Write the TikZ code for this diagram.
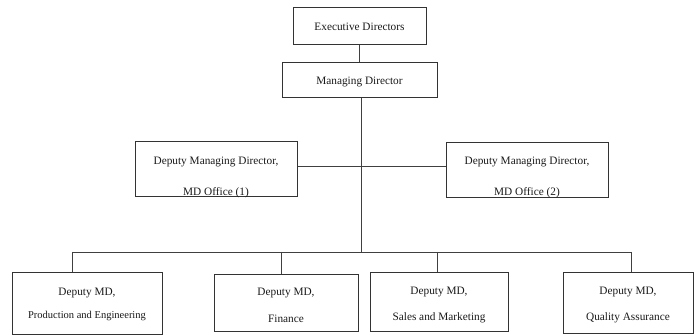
\documentclass[tikz,border=0pt]{standalone}
\usepackage{fontspec}
\setmainfont{Liberation Serif}
\begin{document}
\begin{tikzpicture}[x=1pt,y=-1pt,
  box/.style={draw=black!80,line width=1pt,rectangle,inner sep=0pt},
  txt/.style={inner sep=0pt,font=\fontsize{11.3}{12}\selectfont,text=black!90},
  small/.style={inner sep=0pt,font=\fontsize{10.5}{12}\selectfont,text=black!90},
  wire/.style={draw=black!75,line width=0.8pt}]
\useasboundingbox (0,0) rectangle (694,336);
% boxes
\node[box,minimum width=133pt,minimum height=37pt] (ed) at (359.5,26.5) {};
\node[box,minimum width=155pt,minimum height=35pt] (md) at (359.5,80.5) {};
\node[box,minimum width=162pt,minimum height=55pt] (d1) at (216,169.5) {};
\node[box,minimum width=162pt,minimum height=55pt] (d2) at (527,170.5) {};
\node[box,minimum width=150pt,minimum height=62pt] (b1) at (87,304) {};
\node[box,minimum width=144pt,minimum height=57pt] (b2) at (286,303.5) {};
\node[box,minimum width=138pt,minimum height=59pt] (b3) at (439,302.5) {};
\node[box,minimum width=130pt,minimum height=61pt] (b4) at (628,303.5) {};
% texts
\node[txt] (edt) at (359.5,27) {Executive Directors};
\node[txt] (mdt) at (359.5,82) {Managing Director};
\node[txt] (d1a) at (216,162) {Deputy Managing Director,};
\node[txt] (d1b) at (216,193) {MD Office (1)};
\node[txt] (d2a) at (527,162) {Deputy Managing Director,};
\node[txt] (d2b) at (527,193) {MD Office (2)};
\node[txt] (b1a) at (87,293) {Deputy MD,};
\node[small] (b1b) at (87,316) {Production and Engineering};
\node[txt] (b2a) at (286,293) {Deputy MD,};
\node[txt] (b2b) at (286,319) {Finance};
\node[txt] (b3a) at (439,292) {Deputy MD,};
\node[txt] (b3b) at (439,318) {Sales and Marketing};
\node[txt] (b4a) at (628,292) {Deputy MD,};
\node[txt] (b4b) at (628,318) {Quality Assurance};
% junctions
\coordinate (tr) at (361,252);
\coordinate (jd) at (361,166);
\coordinate (l1) at (72,252);
\coordinate (l2) at (281,252);
\coordinate (l3) at (437,252);
\coordinate (l4) at (631,252);
% connectors
\draw[wire] (ed.south) -- (md.north);
\draw[wire] (md.south -| tr) -- (tr);
\draw[wire] (jd -| d1.east) -- (jd -| d2.west);
\draw[wire] (l1) -- (l4);
\draw[wire] (l1) -- (l1 |- b1.north);
\draw[wire] (l2) -- (l2 |- b2.north);
\draw[wire] (l3) -- (l3 |- b3.north);
\draw[wire] (l4) -- (l4 |- b4.north);
\end{tikzpicture}
\end{document}
